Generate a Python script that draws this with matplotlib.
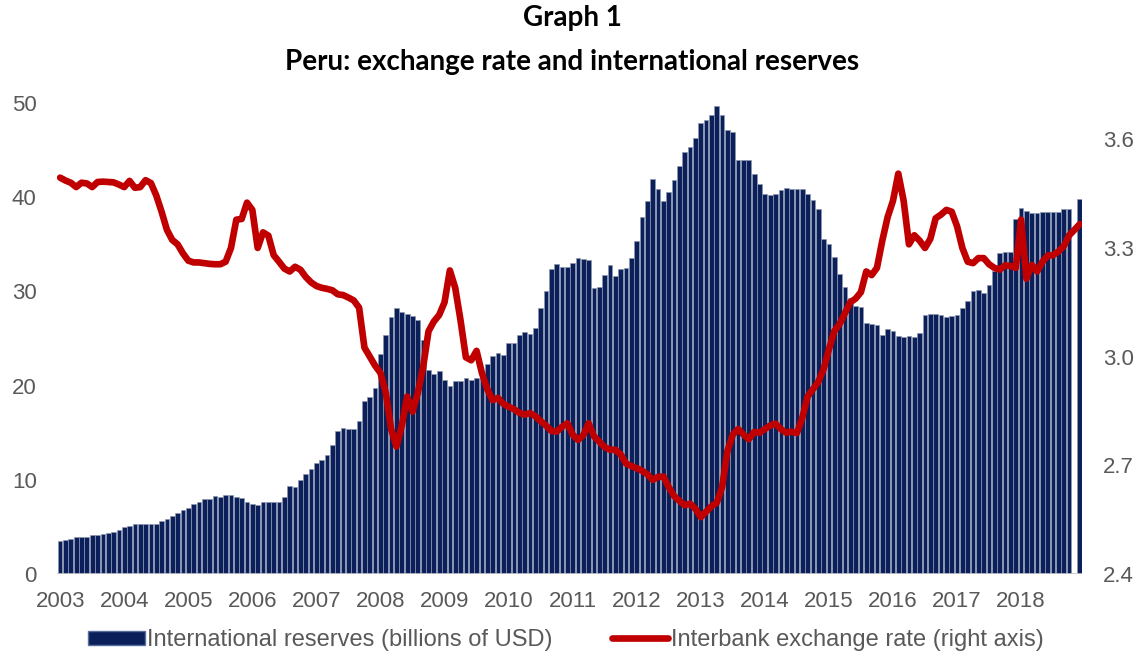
import numpy as np
import matplotlib
matplotlib.use("Agg")
import matplotlib.pyplot as plt
from matplotlib.patches import Patch
from matplotlib.lines import Line2D

# Years shown on the x axis (one label each January)
years = [str(y) for y in range(2003, 2019)]

# International reserves, billions of USD, monthly Jan 2003 - Dec 2018 (Nov 2018 missing)
reserves = [
    3.5, 3.57, 3.71, 3.92, 3.92, 3.92, 4.14, 4.14, 4.21, 4.32, 4.5, 4.7,
    5.02, 5.09, 5.34, 5.3, 5.27, 5.3, 5.3, 5.66, 5.87, 6.19, 6.44, 6.79,
    7.04, 7.39, 7.68, 7.93, 8.0, 8.28, 8.17, 8.35, 8.35, 8.2, 8.1, 7.6,
    7.39, 7.36, 7.6, 7.64, 7.64, 7.64, 8.2, 9.37, 9.27, 9.98, 10.6, 11.2,
    11.8, 12.1, 12.6, 13.7, 15.2, 15.5, 15.4, 15.4, 16.2, 18.4, 18.8, 19.8,
    23.4, 25.4, 27.3, 28.2, 27.8, 27.6, 27.4, 27.0, 24.8, 21.7, 21.2, 21.5,
    20.6, 20.0, 20.5, 20.5, 20.8, 20.6, 20.8, 21.5, 22.3, 23.1, 23.5, 23.2,
    24.5, 24.5, 25.4, 25.7, 25.5, 26.1, 28.2, 30.0, 32.4, 32.9, 32.6, 32.6,
    33.0, 33.6, 33.4, 33.3, 30.4, 30.5, 31.7, 32.8, 31.6, 32.4, 32.5, 33.5,
    35.3, 37.9, 39.6, 41.9, 40.9, 39.6, 40.6, 41.8, 43.3, 44.8, 45.3, 46.3,
    47.9, 48.2, 48.7, 49.7, 48.7, 47.1, 46.9, 44.0, 44.0, 44.0, 42.5, 41.4,
    40.3, 40.2, 40.3, 40.8, 41.0, 40.9, 40.9, 40.9, 40.3, 39.7, 38.8, 35.6,
    35.0, 33.7, 31.9, 30.5, 29.3, 28.5, 28.3, 26.6, 26.5, 26.4, 25.4, 26.0,
    25.8, 25.3, 25.2, 25.3, 25.2, 25.6, 27.5, 27.6, 27.6, 27.5, 27.3, 27.4,
    27.5, 28.2, 29.0, 30.0, 30.1, 29.8, 30.7, 32.2, 34.1, 34.2, 34.2, 37.7,
    38.9, 38.5, 38.3, 38.3, 38.4, 38.4, 38.4, 38.4, 38.7, 38.8, np.nan, 39.8,
]

# Interbank exchange rate (soles per USD), monthly, right axis
exchange = [
    3.494, 3.486, 3.48, 3.468, 3.48, 3.478, 3.468, 3.482, 3.483, 3.482, 3.481, 3.475,
    3.468, 3.485, 3.466, 3.468, 3.487, 3.479, 3.445, 3.40, 3.35, 3.322, 3.31, 3.285,
    3.265, 3.26, 3.26, 3.258, 3.256, 3.255, 3.255, 3.262, 3.30, 3.378, 3.38, 3.425,
    3.405, 3.30, 3.343, 3.334, 3.28, 3.262, 3.243, 3.235, 3.248, 3.24, 3.22, 3.205,
    3.195, 3.19, 3.187, 3.183, 3.172, 3.17, 3.163, 3.155, 3.135, 3.025, 3.0, 2.975,
    2.955, 2.90, 2.80, 2.752, 2.81, 2.89, 2.848, 2.90, 2.972, 3.07, 3.097, 3.115,
    3.15, 3.238, 3.19, 3.10, 2.998, 2.99, 3.016, 2.955, 2.91, 2.88, 2.886, 2.87,
    2.862, 2.855, 2.845, 2.84, 2.844, 2.836, 2.822, 2.81, 2.795, 2.793, 2.806, 2.816,
    2.785, 2.77, 2.783, 2.816, 2.78, 2.765, 2.75, 2.743, 2.743, 2.73, 2.705, 2.698,
    2.692, 2.685, 2.675, 2.66, 2.668, 2.669, 2.64, 2.615, 2.602, 2.59, 2.594, 2.58,
    2.557, 2.572, 2.587, 2.597, 2.64, 2.74, 2.785, 2.80, 2.785, 2.772, 2.792, 2.79,
    2.80, 2.81, 2.815, 2.80, 2.79, 2.793, 2.789, 2.83, 2.89, 2.91, 2.93, 2.965,
    3.02, 3.07, 3.09, 3.12, 3.15, 3.16, 3.178, 3.235, 3.225, 3.245, 3.32, 3.385,
    3.43, 3.505, 3.43, 3.31, 3.335, 3.32, 3.30, 3.325, 3.382, 3.392, 3.405, 3.40,
    3.36, 3.30, 3.262, 3.258, 3.272, 3.272, 3.255, 3.245, 3.24, 3.252, 3.25, 3.245,
    3.378, 3.215, 3.253, 3.235, 3.262, 3.279, 3.28, 3.29, 3.305, 3.335, 3.35, 3.366,
]

left_ticks = [0, 10, 20, 30, 40, 50]
right_ticks = [2.4, 2.7, 3.0, 3.3, 3.6]


def main():
    plt.rcParams['font.family'] = ['Liberation Sans', 'DejaVu Sans']
    grey = '#595959'
    navy = '#0b1f5a'
    red = '#c00000'

    fig = plt.figure(figsize=(11.45, 6.57), dpi=100)
    ax = fig.add_axes([0.0502, 0.1263, 0.8952, 0.7169])

    # Bars (left axis)
    x = np.arange(len(reserves))
    ax.bar(x, reserves, width=0.88, color=navy, edgecolor='#8e97b0', linewidth=0.5, zorder=2)
    ax.set_xlim(-0.5, len(reserves) - 0.5)
    ax.set_ylim(0, 50)
    ax.set_yticks(left_ticks)

    # Line (right axis)
    ax2 = ax.twinx()
    ax2.plot(np.arange(len(exchange)), exchange, color=red, linewidth=4.8,
             solid_capstyle='round', solid_joinstyle='round', zorder=3)
    ax2.set_ylim(2.4, 3.7)
    ax2.set_yticks(right_ticks)
    ax2.set_yticklabels([f'{t:.1f}' for t in right_ticks])

    # Year labels at each January
    ax.set_xticks(np.arange(0, len(reserves), 12))
    ax.set_xticklabels(years)

    for a in (ax, ax2):
        for s in a.spines.values():
            s.set_visible(False)
        a.tick_params(length=0, labelsize=16, colors=grey)
    ax.tick_params(axis='y', pad=15)
    ax2.tick_params(axis='y', pad=15)
    ax.tick_params(axis='x', pad=12)
    ax.axhline(0, color='#c8c8c8', linewidth=1.2, zorder=3)

    # Titles
    fig.text(0.5, 1 - 18 / 657, 'Graph 1', ha='center', va='center',
             fontsize=20, fontweight='bold', family=['Lato', 'DejaVu Sans'])
    fig.text(0.5, 1 - 62 / 657, 'Peru: exchange rate and international reserves',
             ha='center', va='center', fontsize=20, fontweight='bold',
             family=['Lato', 'DejaVu Sans'])

    # Legend
    handles = [Patch(facecolor=navy, edgecolor='#5a6f9e', linewidth=1.0),
               Line2D([0], [0], color=red, linewidth=4.8, solid_capstyle='round')]
    labels = ['International reserves (billions of USD)',
              'Interbank exchange rate (right axis)']
    fig.legend(handles, labels, loc='center', bbox_to_anchor=(0.494, 1 - 640 / 657),
               ncol=2, frameon=False, fontsize=17, labelcolor=grey,
               handlelength=2.4, handleheight=0.55, handletextpad=0.1, columnspacing=2.5)

    fig.savefig('out.png', dpi=100)


main()
